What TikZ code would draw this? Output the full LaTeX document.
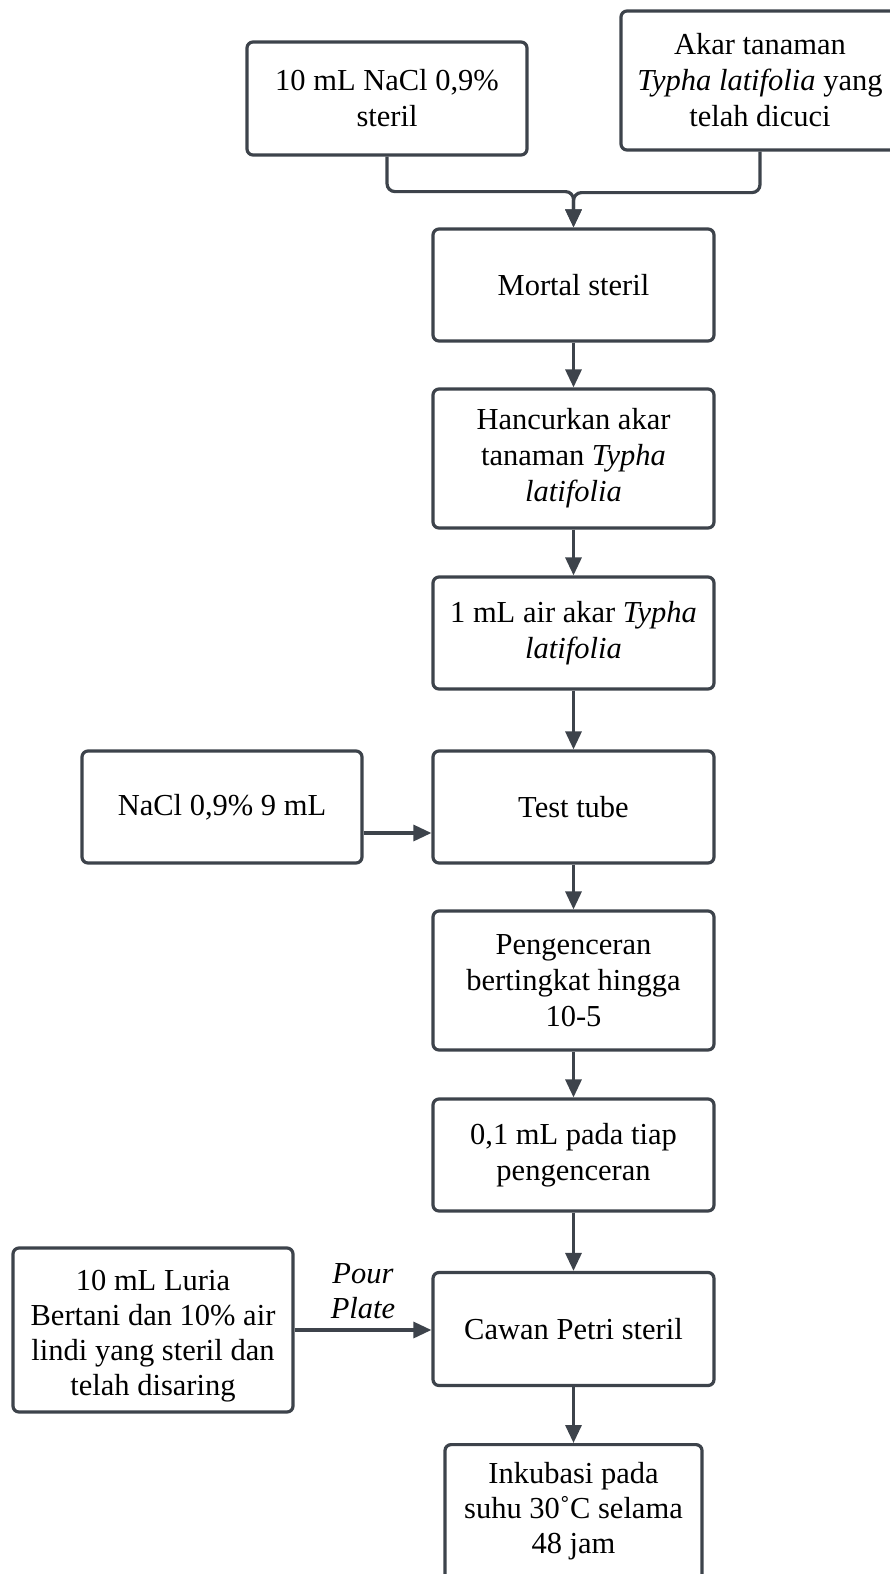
\documentclass[tikz,border=0pt]{standalone}
\usepackage{fontspec}
\setmainfont{Liberation Serif}
\usetikzlibrary{arrows.meta,calc}
\definecolor{edge}{HTML}{3D434B}
\tikzset{
  box/.style={draw=edge, line width=3.2pt, rounded corners=6pt, fill=white,
    align=center, inner sep=0pt, font=\fontsize{30.5}{36}\selectfont},
  arr/.style={draw=edge, line width=3.2pt, -{Triangle[length=18pt,width=16pt]}},
  lbl/.style={align=center, font=\fontsize{30.5}{35}\selectfont}
}
\begin{document}
\begin{tikzpicture}[x=1pt,y=-1pt]
\useasboundingbox (0,0) rectangle (890,1574);

% inputs at the top
\node[box, minimum width=280, minimum height=113] (A) at (387,98.5) {10 mL NaCl 0,9\%\\steril};
\node[box, minimum width=278, minimum height=139] (B) at (760,80.5) {Akar tanaman\\\textit{Typha latifolia} yang\\telah dicuci};

% main column
\node[box, minimum width=281, minimum height=112] (C) at (573.5,285) {Mortal steril};
\node[box, minimum width=281, minimum height=139] (D) at (573.5,458.5) {Hancurkan akar\\tanaman \textit{Typha}\\\textit{latifolia}};
\node[box, minimum width=281, minimum height=112] (E) at (573.5,633) {1 mL air akar \textit{Typha}\\\textit{latifolia}};
\node[box, minimum width=281, minimum height=112] (F) at (573.5,807) {Test tube};
\node[box, minimum width=281, minimum height=139] (H) at (573.5,980.5) {Pengenceran\\bertingkat hingga\\10-5};
\node[box, minimum width=281, minimum height=112] (I) at (573.5,1155) {0,1 mL pada tiap\\pengenceran};
\node[box, minimum width=281, minimum height=113] (J) at (573.5,1329) {Cawan Petri steril};
\node[box, minimum width=257, minimum height=170, anchor=north] (L) at (573.5,1443) {};
\node[lbl] (Ltext) at (573.5,1511) {Inkubasi pada\\suhu 30˚C selama\\48 jam};

% side inputs
\node[box, minimum width=280, minimum height=112] (G) at (222,807) {NaCl 0,9\% 9 mL};
\node[box, minimum width=280, minimum height=164] (K) at (153,1330) {};
\node[lbl] (Ktext) at (153,1336) {10 mL Luria\\Bertani dan 10\% air\\lindi yang steril dan\\telah disaring};

% connectors
\draw[arr, rounded corners=8pt] (A.south) -- ++(0,35) -| (C.north);
\draw[arr, rounded corners=8pt] (B.south) -- ++(0,41) -| (C.north);
\draw[arr] (C) -- (D);
\draw[arr] (D) -- (E);
\draw[arr] (E) -- (F);
\draw[arr] (F) -- (H);
\draw[arr] (H) -- (I);
\draw[arr] (I) -- (J);
\draw[arr] (J) -- (L);
\coordinate (gout) at ($(G.east)+(0,26)$);
\draw[arr] (gout) -- (gout -| F.west);
\draw[arr] (K.east) -- (K.east -| J.west)
  node[midway, above=6pt, lbl] {\textit{Pour}\\\textit{Plate}};
\end{tikzpicture}
\end{document}
